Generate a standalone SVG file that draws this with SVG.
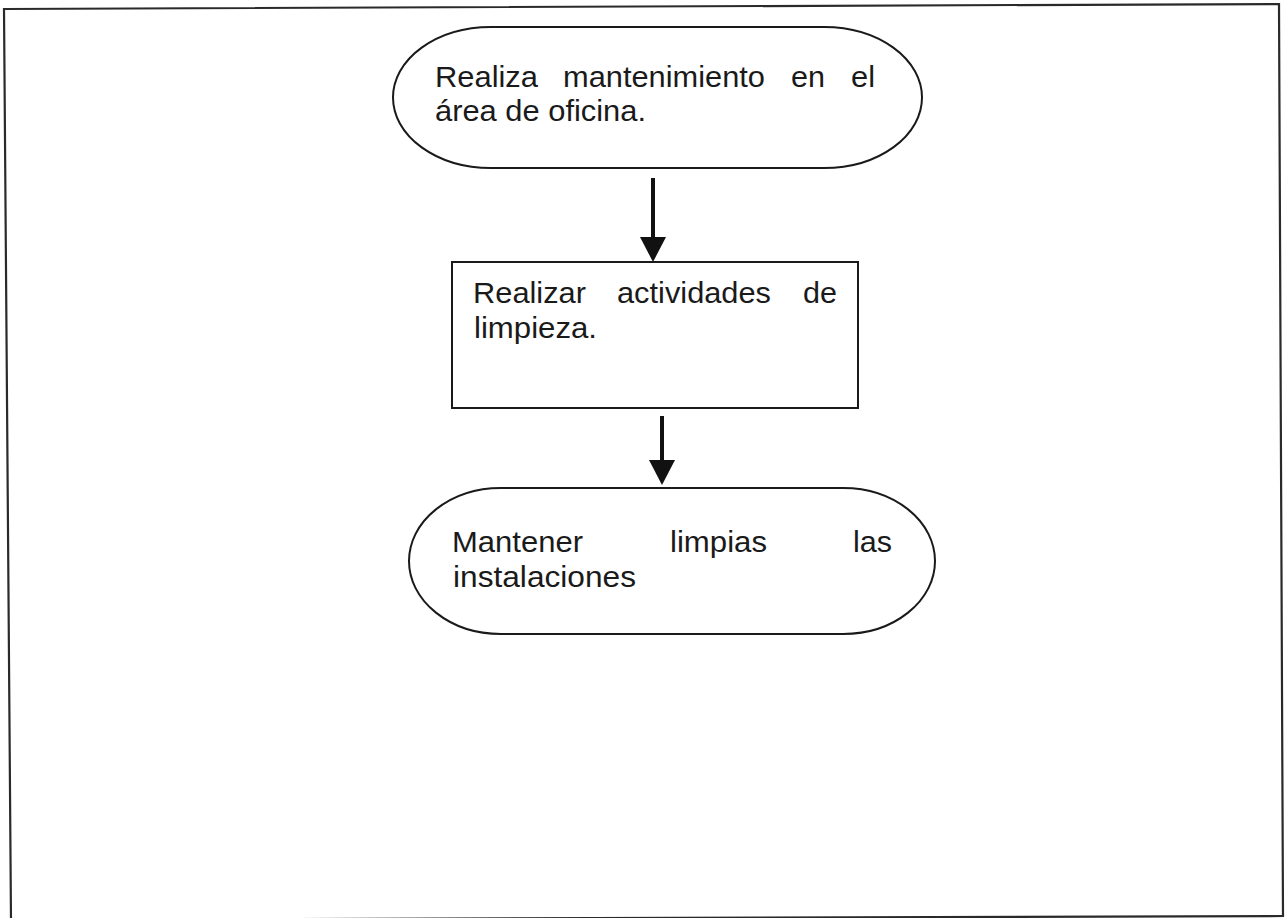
<svg xmlns="http://www.w3.org/2000/svg" width="1286" height="918" viewBox="0 0 1286 918">
<style>
.shape{fill:#ffffff;stroke:#1a1a1a;stroke-width:2}
.frame{fill:none;stroke:#2a2a2a;stroke-width:2.2}
.t{font-family:"Liberation Sans",Arial,sans-serif;font-size:29.5px;fill:#1a1a1a}
.conn{stroke:#111111;stroke-width:4;fill:none}
</style>
<defs>
<marker id="ah" markerUnits="userSpaceOnUse" markerWidth="26" markerHeight="26" viewBox="0 0 25 26" refX="15" refY="13" orient="auto">
<path d="M0,0 L25,13 L0,26 Z" fill="#111111"/>
</marker>
</defs>
<rect width="1286" height="918" fill="#ffffff"/>
<polygon class="frame" points="4,9 1279,4 1283,916 11,920"/>
<g id="n1">
<rect class="shape" x="393" y="27" width="529" height="141" rx="98" ry="70.5"/>
<text class="t" x="435" y="87" textLength="103" lengthAdjust="spacingAndGlyphs">Realiza</text>
<text class="t" x="563" y="87" textLength="202" lengthAdjust="spacingAndGlyphs">mantenimiento</text>
<text class="t" x="791" y="87" textLength="34" lengthAdjust="spacingAndGlyphs">en</text>
<text class="t" x="851" y="87" textLength="24" lengthAdjust="spacingAndGlyphs">el</text>
<text class="t" x="435" y="121" textLength="211" lengthAdjust="spacingAndGlyphs">área de oficina.</text>
</g>
<g id="n2">
<rect class="shape" x="452" y="262" width="406" height="146"/>
<text class="t" x="473" y="303" textLength="113" lengthAdjust="spacingAndGlyphs">Realizar</text>
<text class="t" x="617" y="303" textLength="154" lengthAdjust="spacingAndGlyphs">actividades</text>
<text class="t" x="803" y="303" textLength="34" lengthAdjust="spacingAndGlyphs">de</text>
<text class="t" x="474" y="338" textLength="123" lengthAdjust="spacingAndGlyphs">limpieza.</text>
</g>
<g id="n3">
<rect class="shape" x="409" y="488" width="526" height="146" rx="92" ry="73"/>
<text class="t" x="452" y="552" textLength="131" lengthAdjust="spacingAndGlyphs">Mantener</text>
<text class="t" x="670" y="552" textLength="97" lengthAdjust="spacingAndGlyphs">limpias</text>
<text class="t" x="853" y="552" textLength="39" lengthAdjust="spacingAndGlyphs">las</text>
<text class="t" x="453" y="587" textLength="183" lengthAdjust="spacingAndGlyphs">instalaciones</text>
</g>
<g id="connectors">
<line class="conn" x1="653" y1="178" x2="653" y2="252" marker-end="url(#ah)"/>
<line class="conn" x1="662" y1="416" x2="662" y2="475" marker-end="url(#ah)"/>
</g>
</svg>
